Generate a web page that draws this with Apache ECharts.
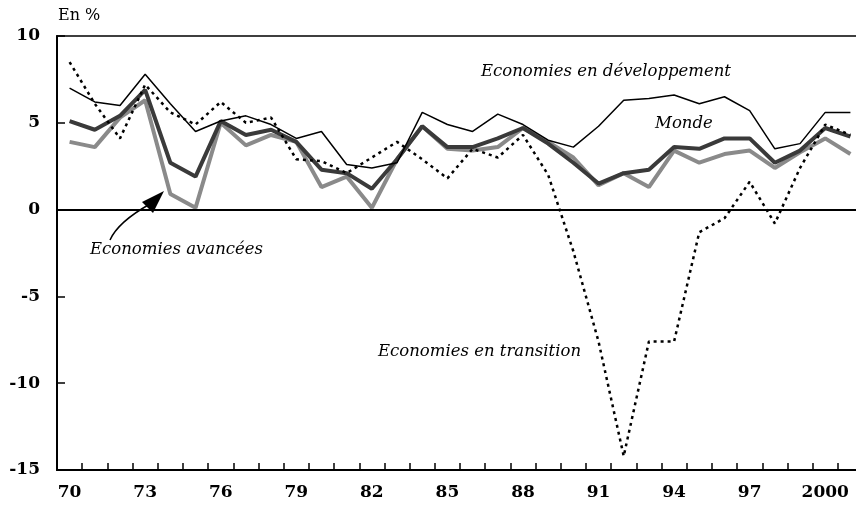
<!DOCTYPE html>
<html>
<head>
<meta charset="utf-8">
<script src="https://cdn.jsdelivr.net/npm/echarts@6/dist/echarts.min.js"></script>
<style>
  html, body { margin: 0; padding: 0; background: #fff; }
  #chart { width: 856px; height: 512px; }
</style>
</head>
<body>
<div id="chart"></div>
<script>
  // années 1970 - 2001
  const years = ['70', '71', '72', '73', '74', '75', '76', '77', '78', '79',
    '80', '81', '82', '83', '84', '85', '86', '87', '88', '89',
    '90', '91', '92', '93', '94', '95', '96', '97', '98', '99', '2000', '2001']

  const developpement = [7.0, 6.2, 6.0, 7.8, 6.1, 4.5, 5.1, 5.4, 4.9, 4.1,
    4.5, 2.6, 2.4, 2.7, 5.6, 4.9, 4.5, 5.5, 4.9, 4.0,
    3.6, 4.8, 6.3, 6.4, 6.6, 6.1, 6.5, 5.7, 3.5, 3.8, 5.6, 5.6]
  const monde = [5.1, 4.6, 5.4, 6.9, 2.7, 1.9, 5.1, 4.3, 4.6, 3.9,
    2.3, 2.1, 1.2, 2.9, 4.8, 3.6, 3.6, 4.1, 4.7, 3.8,
    2.7, 1.5, 2.1, 2.3, 3.6, 3.5, 4.1, 4.1, 2.7, 3.4, 4.7, 4.2]
  const avancees = [3.9, 3.6, 5.3, 6.3, 0.9, 0.1, 5.0, 3.7, 4.3, 3.9,
    1.3, 1.9, 0.1, 2.9, 4.8, 3.5, 3.4, 3.6, 4.7, 3.9,
    3.0, 1.4, 2.1, 1.3, 3.4, 2.7, 3.2, 3.4, 2.4, 3.3, 4.1, 3.2]
  const transition = [8.5, 6.1, 4.1, 7.2, 5.6, 4.9, 6.2, 5.0, 5.3, 2.9,
    2.8, 2.1, 3.0, 3.9, 2.9, 1.8, 3.5, 3.0, 4.3, 2.0,
    -2.4, -7.6, -14.2, -7.6, -7.6, -1.3, -0.5, 1.6, -0.8, 2.4, 4.9, 4.3]

  const serif = 'DejaVu Serif'
  const noteStyle = { fontFamily: serif, fontStyle: 'italic', fontSize: 16.5, fill: '#000' }

  let myChart = echarts.init(document.getElementById('chart'))
  myChart.setOption({
    animation: false,
    grid: {
      left: 57,
      top: 36,
      right: -7,
      bottom: 42,
      outerBoundsMode: 'none',
      show: true,
      borderColor: '#000',
      borderWidth: 1.5
    },
    xAxis: {
      type: 'category',
      data: years,
      boundaryGap: true,
      z: 10,
      axisLine: { show: true, onZero: false, lineStyle: { color: '#000', width: 2 } },
      axisTick: { show: true, inside: true, length: 7, interval: 0, lineStyle: { color: '#000', width: 1.5 } },
      axisLabel: {
        interval: 2,
        margin: 14,
        color: '#000',
        fontFamily: serif,
        fontWeight: 'bold',
        fontSize: 17
      },
      splitLine: { show: false }
    },
    yAxis: {
      type: 'value',
      min: -15,
      max: 10,
      interval: 5,
      z: 10,
      axisLine: { show: true, onZero: false, lineStyle: { color: '#000', width: 2 } },
      axisTick: { show: true, inside: true, length: 8, lineStyle: { color: '#000', width: 1.5 } },
      axisLabel: {
        margin: 17,
        color: '#000',
        fontFamily: serif,
        fontWeight: 'bold',
        fontSize: 17
      },
      splitLine: { show: false }
    },
    series: [
      {
        name: 'Economies avancées',
        type: 'line',
        data: avancees,
        symbol: 'none',
        lineStyle: { color: '#8a8a8a', width: 4 },
        markLine: {
          silent: true,
          symbol: 'none',
          label: { show: false },
          lineStyle: { color: '#000', width: 2, type: 'solid' },
          data: [{ yAxis: 0 }]
        }
      },
      {
        name: 'Monde',
        type: 'line',
        data: monde,
        symbol: 'none',
        lineStyle: { color: '#3a3a3a', width: 4 }
      },
      {
        name: 'Economies en développement',
        type: 'line',
        data: developpement,
        symbol: 'none',
        lineStyle: { color: '#000', width: 1.5 }
      },
      {
        name: 'Economies en transition',
        type: 'line',
        data: transition,
        symbol: 'none',
        lineStyle: { color: '#000', width: 2.5, type: [3, 4] }
      }
    ],
    graphic: [
      { type: 'text', left: 58, top: 8, style: { text: 'En %', fontFamily: serif, fontSize: 16, fill: '#000' } },
      { type: 'text', left: 481, top: 63, style: Object.assign({ text: 'Economies en développement' }, noteStyle) },
      { type: 'text', left: 655, top: 115, style: Object.assign({ text: 'Monde' }, noteStyle) },
      { type: 'text', left: 90, top: 241, style: Object.assign({ text: 'Economies avancées' }, noteStyle) },
      { type: 'text', left: 378, top: 343, style: Object.assign({ text: 'Economies en transition' }, noteStyle) },
      {
        type: 'bezierCurve',
        shape: { x1: 110, y1: 240, x2: 150, y2: 204, cpx1: 118, cpy1: 222 },
        style: { stroke: '#000', lineWidth: 1.5, fill: null }
      },
      {
        type: 'polygon',
        shape: { points: [[164, 191], [142, 202], [153, 213]] },
        style: { fill: '#000' }
      }
    ]
  })
</script>
</body>
</html>
